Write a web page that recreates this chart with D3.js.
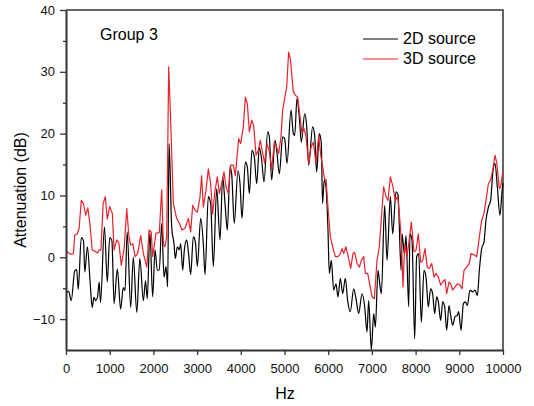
<!DOCTYPE html>
<html lang="en">
<head>
<meta charset="utf-8">
<title>Group 3 attenuation</title>
<script src="https://d3js.org/d3.v7.min.js"></script>
<style>
  body { margin: 0; background: #fff; }
  svg { font-family: "Liberation Sans", Arial, sans-serif; }
  .axis path, .axis line { stroke: #333; }
  .axis text { fill: #111; font-size: 13px; }
  .series { fill: none; stroke-width: 1.2; stroke-linejoin: round; }
</style>
</head>
<body>
<script>
// readings taken off the plot (Hz, dB)
var hz2D = [0, 60, 120, 200, 245, 280, 350, 400, 430, 490, 550, 600, 640, 680, 720, 760, 790, 880, 945, 1000,
  1050, 1100, 1175, 1250, 1310, 1350, 1400, 1480, 1540, 1620, 1690, 1770, 1820, 1860, 1920, 1983, 2037, 2090, 2135, 2190,
  2243, 2289, 2327, 2357, 2380, 2418, 2471, 2502, 2548, 2593, 2624, 2670, 2708, 2761, 2807, 2853, 2914, 2960, 3005, 3082,
  3142, 3181, 3257, 3310, 3371, 3448, 3524, 3585, 3639, 3692, 3753, 3791, 3850, 3935, 3982, 4027, 4104, 4150, 4195, 4256,
  4310, 4363, 4424, 4478, 4531, 4615, 4653, 4707, 4783, 4821, 4882, 4958, 5004, 5057, 5149, 5202, 5233, 5286, 5339, 5385,
  5462, 5507, 5553, 5644, 5690, 5736, 5797, 5843, 5870, 5910, 5950, 5995, 6026, 6072, 6125, 6179, 6224, 6278, 6331, 6392,
  6445, 6506, 6583, 6636, 6697, 6774, 6835, 6888, 6926, 6987, 7041, 7079, 7140, 7170, 7216, 7292, 7346, 7422, 7476, 7552,
  7598, 7667, 7690, 7743, 7781, 7842, 7872, 7918, 7979, 8024, 8070, 8131, 8192, 8238, 8291, 8345, 8390, 8436, 8482, 8520,
  8574, 8620, 8665, 8711, 8764, 8803, 8848, 8902, 8955, 8986, 9039, 9093, 9139, 9184, 9245, 9306, 9360, 9413, 9459, 9512,
  9566, 9611, 9665, 9718, 9764, 9817, 9870, 9931, 9977, 10000];
var att2D = [-5.8, -5.5, -7.0, -2.2, -2.0, -5.2, 3.2, 2.7, -2.4, 1.7, -3.8, -8.1, -6.5, -7.0, -6.5, -4.0, -7.3, 4.9, -4.0, 3.2,
  2.7, -7.5, -1.9, -8.4, -4.9, -5.4, 4.1, -8.1, 0.0, -8.9, -0.2, -7.0, -3.8, -6.7, 4.0, -6.4, 1.2, -2.1, -2.1, 5.5,
  -3.2, -1.5, -4.8, 18.4, 14.6, 4.9, 2.2, -0.2, 1.7, 1.2, 2.2, -2.1, 1.2, 2.8, 0.4, -2.8, 3.3, 2.5, -1.5, 6.3,
  2.2, -2.8, 9.8, 8.7, -1.5, 11.1, 2.8, 13.0, 8.7, 4.4, 14.6, 13.5, 5.5, 14.0, 11.9, 6.3, 15.4, 14.6, 10.3, 17.3,
  16.2, 11.9, 17.8, 15.7, 12.2, 20.3, 19.5, 12.5, 18.9, 17.3, 13.5, 19.5, 19.2, 15.2, 23.8, 20.0, 19.7, 25.7, 22.7, 18.6,
  23.2, 21.3, 14.9, 21.1, 19.7, 13.8, 20.0, 18.4, 8.7, 12.5, 11.4, 4.4, -2.6, -0.5, -5.3, -4.3, -6.4, -3.4, -5.9, -3.4,
  -7.0, -8.8, -5.1, -6.7, -9.1, -5.9, -8.0, -12.1, -7.0, -15.0, -9.1, -11.3, -2.1, -3.7, -5.9, 8.4, -0.5, 9.8, 3.8, 10.6,
  10.1, -2.1, 3.8, 0.6, 3.5, -8.0, 3.8, 2.8, -13.2, 0.1, 0.6, -10.5, -2.1, -3.2, -8.0, -5.1, -5.9, -9.1, -6.4, -7.2,
  -10.2, -7.2, -8.0, -11.8, -7.8, -9.4, -11.0, -9.6, -9.4, -8.8, -11.8, -7.5, -7.2, -7.8, -5.3, -5.6, -5.3, -6.2, -2.1, 1.4,
  2.5, 6.0, 8.1, 9.2, 13.5, 15.2, 11.4, 6.8, 10.6, 12.0];

var hz3D = [0, 107, 170, 200, 260, 300, 350, 400, 450, 500, 550, 600, 680, 720, 760, 800, 850, 900, 945, 1000,
  1060, 1100, 1160, 1210, 1265, 1330, 1390, 1440, 1480, 1530, 1580, 1640, 1710, 1770, 1850, 1900, 1950, 1983, 2060, 2135,
  2190, 2228, 2265, 2304, 2350, 2395, 2456, 2532, 2593, 2654, 2723, 2799, 2853, 2898, 2952, 3005, 3066, 3104, 3142, 3203,
  3257, 3310, 3356, 3410, 3463, 3509, 3562, 3616, 3661, 3715, 3768, 3829, 3875, 3951, 3997, 4058, 4104, 4150, 4195, 4249,
  4295, 4348, 4401, 4447, 4501, 4547, 4600, 4653, 4707, 4768, 4821, 4867, 4920, 4958, 5004, 5050, 5095, 5134, 5172, 5202,
  5248, 5301, 5355, 5400, 5446, 5492, 5553, 5606, 5660, 5721, 5782, 5835, 5858, 5919, 5950, 5995, 6049, 6103, 6163, 6224,
  6278, 6316, 6354, 6407, 6468, 6514, 6568, 6606, 6659, 6713, 6759, 6812, 6850, 6904, 6949, 7003, 7056, 7117, 7170, 7269,
  7323, 7369, 7422, 7476, 7537, 7590, 7628, 7674, 7712, 7750, 7804, 7857, 7903, 7963, 8009, 8062, 8116, 8162, 8215, 8268,
  8314, 8368, 8421, 8467, 8520, 8574, 8620, 8673, 8711, 8764, 8803, 8848, 8902, 8955, 9016, 9062, 9108, 9169, 9230, 9268,
  9337, 9398, 9459, 9512, 9566, 9611, 9665, 9718, 9764, 9817, 9855, 9916, 9947, 9993];
var att3D = [1.0, 0.5, 0.6, 3.6, 3.8, 4.7, 9.2, 8.7, 6.8, 8.0, 5.2, 1.2, 0.9, 0.7, 1.2, 1.2, 8.7, 9.8, 6.2, 8.2,
  7.1, 1.2, 2.8, 2.3, -1.3, 1.4, 7.9, 3.3, 2.0, 2.2, 0.1, 0.6, 3.5, 0.6, -1.6, 4.4, 4.1, 0.1, 3.9, 4.0,
  10.9, 2.2, 1.7, 3.3, 30.8, 22.2, 8.7, 6.3, 5.5, 4.4, 4.7, 6.3, 4.1, 8.4, 7.6, 7.3, 9.7, 13.2, 8.1, 10.8,
  14.3, 11.9, 7.0, 10.8, 13.0, 10.3, 11.9, 13.8, 11.4, 10.3, 14.9, 14.9, 13.2, 19.2, 18.4, 21.1, 25.9, 24.8, 20.3, 22.2,
  21.3, 16.5, 17.3, 18.9, 16.8, 15.2, 18.4, 17.1, 14.3, 18.6, 17.8, 16.8, 19.5, 23.8, 25.7, 27.5, 33.2, 32.1, 29.1, 26.8,
  26.2, 25.9, 22.7, 20.0, 20.8, 19.5, 15.2, 17.8, 18.6, 15.2, 19.7, 16.2, 15.4, 12.5, 12.6, 8.1, 3.3, 1.7, 0.1, 0.1,
  0.6, 1.4, 0.6, 1.7, -0.2, -1.8, 0.6, 0.8, -1.0, -1.6, -0.5, 0.1, -2.6, -2.6, -4.3, -6.4, -6.7, -0.5, 1.7, 11.4,
  9.8, 9.2, 13.0, 11.6, 9.2, 9.8, 7.1, 2.8, -4.8, 2.0, 0.1, 3.0, 5.7, 0.9, 1.1, 3.8, -0.8, -0.5, 1.4, -1.6,
  -1.8, -1.0, -3.2, -2.6, -3.2, -4.5, -4.0, -3.6, -5.9, -4.0, -4.3, -5.3, -4.8, -4.3, -4.5, -5.1, -2.1, -1.6, -1.0, 0.6,
  0.4, 0.1, 3.3, 6.0, 7.1, 9.2, 11.9, 12.5, 14.1, 16.5, 15.4, 11.1, 11.4, 13.8];

var xTicks = d3.range(0, 10001, 1000);
var yTicks = [-10, 0, 10, 20, 30, 40];
var yMinor = [-5, 5, 15, 25, 35];
var seriesNames = ["2D source", "3D source"];
var seriesColors = ["#000000", "#e8222b"];

var width = 534, height = 406;
var margin = {top: 10, right: 31, bottom: 56, left: 66};

var svg = d3.select("body").append("svg")
    .attr("width", width)
    .attr("height", height);

var x = d3.scaleLinear()
    .domain([0, 10000])
    .range([margin.left, width - margin.right]);
var y = d3.scaleLinear()
    .domain([-15, 40])
    .range([height - margin.bottom, margin.top]);

var series = [
  d3.zip(hz2D, att2D),
  d3.zip(hz3D, att3D)
];

// the 2D trace looks smoother (denser sampling), the 3D one is piecewise linear
var curves = [d3.curveMonotoneX, d3.curveLinear];

// frame top / right
svg.append("path")
    .attr("d", "M" + x(0) + "," + y(40) + "H" + x(10000) + "V" + y(-15))
    .attr("fill", "none")
    .attr("stroke", "#333")
    .attr("stroke-width", 1.5);

svg.selectAll(".series")
    .data(series)
  .enter().append("path")
    .attr("class", "series")
    .attr("stroke", function(d, i) { return seriesColors[i]; })
    .attr("d", function(d, i) {
        return d3.line()
            .curve(curves[i])
            .x(function(p) { return x(p[0]); })
            .y(function(p) { return y(p[1]); })(d);
    });

var gx = svg.append("g")
    .attr("class", "axis")
    .attr("transform", "translate(0," + y(-15) + ")")
    .call(d3.axisBottom(x).tickValues(xTicks).tickSize(5).tickSizeOuter(0).tickPadding(9).tickFormat(d3.format("d")));

var gy = svg.append("g")
    .attr("class", "axis")
    .attr("transform", "translate(" + x(0) + ",0)")
    .call(d3.axisLeft(y).tickValues(yTicks).tickSize(6).tickSizeOuter(0).tickPadding(5));

svg.append("g")
    .attr("class", "axis")
    .attr("transform", "translate(" + x(0) + ",0)")
    .call(d3.axisLeft(y).tickValues(yMinor).tickSize(3).tickFormat(""))
    .select(".domain").remove();

gx.select(".domain").attr("stroke-width", 2);
gy.select(".domain").attr("stroke-width", 2);
svg.selectAll(".axis .tick line").attr("stroke-width", 1.3);

// titles
svg.append("text")
    .attr("x", 285)
    .attr("y", 399)
    .attr("text-anchor", "middle")
    .style("font-size", "16px")
    .text("Hz");

svg.append("text")
    .attr("transform", "translate(26,190) rotate(-90)")
    .attr("text-anchor", "middle")
    .style("font-size", "16px")
    .text("Attenuation (dB)");

svg.append("text")
    .attr("x", 100)
    .attr("y", 40)
    .style("font-size", "16px")
    .text("Group 3");

// legend
var legend = svg.selectAll(".legend")
    .data(seriesNames)
  .enter().append("g")
    .attr("transform", function(d, i) { return "translate(363," + (39 + i * 20) + ")"; });

legend.append("line")
    .attr("x1", 0).attr("x2", 35)
    .attr("stroke", function(d, i) { return seriesColors[i]; })
    .attr("stroke-width", 1.2);

legend.append("text")
    .attr("x", 40)
    .attr("y", 5)
    .style("font-size", "16px")
    .text(function(d) { return d; });
</script>
</body>
</html>
